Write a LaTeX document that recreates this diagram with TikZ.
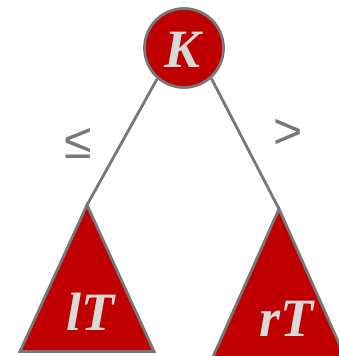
\documentclass[tikz,border=0pt]{standalone}
\usepackage{fontspec}
\setmainfont{Liberation Serif}
\newfontfamily\cmpfont{Liberation Sans}
\usetikzlibrary{positioning}

\definecolor{treered}{HTML}{C00000}
\definecolor{edgegray}{HTML}{777777}
\definecolor{labelgray}{HTML}{D9D9D9}

\tikzset{
  keynode/.style={circle, draw=edgegray, fill=treered, line width=2.8pt,
    minimum size=79pt, inner sep=0pt},
  subtree/.style={draw=edgegray, fill=treered, line width=2.8pt, line join=miter},
  treelabel/.style={text=labelgray, anchor=base,
    font=\fontsize{54}{54}\selectfont\bfseries\itshape},
  cmplabel/.style={text=edgegray, font=\cmpfont\fontsize{50}{50}\selectfont},
  treeedge/.style={draw=edgegray, line width=2.8pt}
}

\begin{document}
\begin{tikzpicture}[x=1pt, y=-1pt]
    % khung hình
    \useasboundingbox (0,0) rectangle (339,356);
    \clip (0,0) rectangle (339,356);

    % cây con trái và phải
    \coordinate (lTtop) at (87,205);
    \coordinate (rTtop) at (279,209);
    \filldraw[subtree] (lTtop) -- (20,351.5) -- (154,351.5) -- cycle;
    \filldraw[subtree] (rTtop) -- (212,359) -- (346,359) -- cycle;
    \node[treelabel] (lT) at (90,330) {lT};
    \node[treelabel] (rT) at (286,336) {rT};

    % nút gốc
    \node[keynode] (K) at (184,48) {};
    \node[treelabel] (Klabel) at (183,67) {K};

    % các cạnh
    \draw[treeedge] (K.229) -- (lTtop);
    \draw[treeedge] (K.312) -- (rTtop);

    % nhãn so sánh
    \node[cmplabel] (le) at (78,143) {≤};
    \node[cmplabel] (gt) at (288,134) {>};
\end{tikzpicture}
\end{document}
